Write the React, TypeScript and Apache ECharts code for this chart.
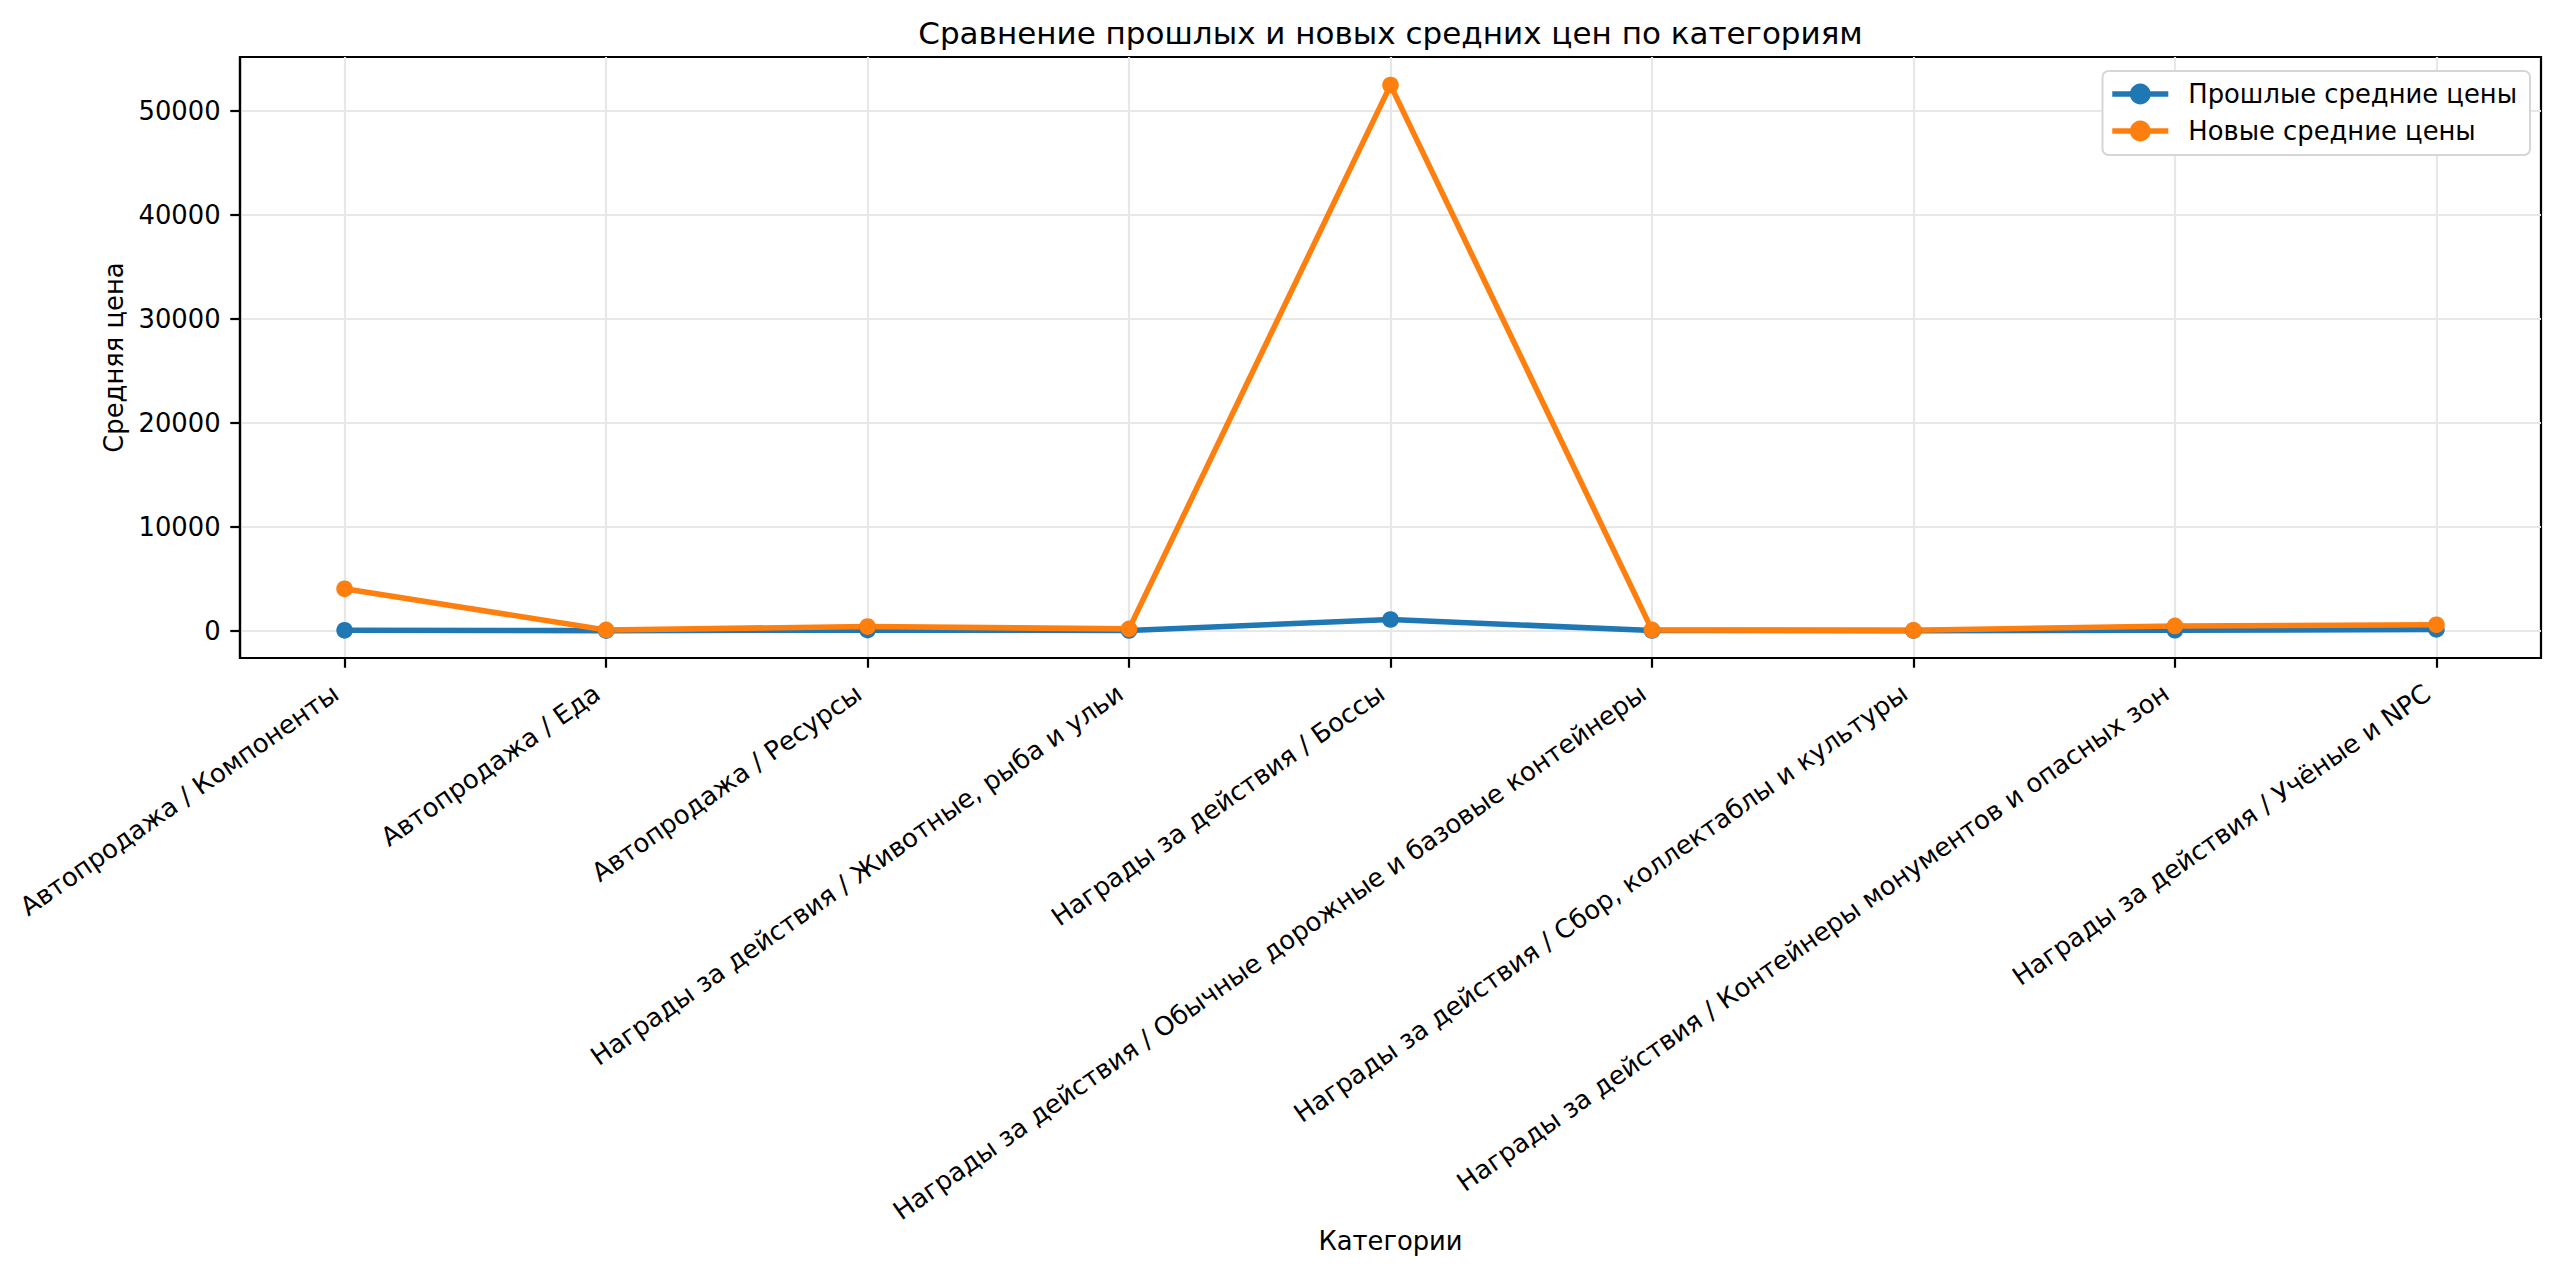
import React, { useEffect, useRef } from 'react';
import * as echarts from 'echarts';

const categories = [
  'Автопродажа / Компоненты',
  'Автопродажа / Еда',
  'Автопродажа / Ресурсы',
  'Награды за действия / Животные, рыба и ульи',
  'Награды за действия / Боссы',
  'Награды за действия / Обычные дорожные и базовые контейнеры',
  'Награды за действия / Сбор, коллектаблы и культуры',
  'Награды за действия / Контейнеры монументов и опасных зон',
  'Награды за действия / Учёные и NPC',
];

const oldPrices = [60, 30, 80, 50, 1100, 40, 30, 70, 150];
const newPrices = [4050, 100, 420, 200, 52470, 100, 60, 480, 600];

const yTicks = [0, 10000, 20000, 30000, 40000, 50000];
const xTicks = categories.map((_, i) => i);

const FONT = 'DejaVu Sans';
const PT = 200 / 72;
const FS = 25.8; // tick / label size
const TITLE_FS = 31;

export default function App() {
  const chartRef = useRef<HTMLDivElement>(null);

  useEffect(() => {
    document.body.style.margin = '0';
    if (!chartRef.current) return;
    const chart = echarts.init(chartRef.current, null, { renderer: 'svg' });

    const gridLeft = 240;
    const gridRight = 2541;
    const gridTop = 57;
    const gridBottom = 658;

    const axisLine = { show: true, onZero: false, lineStyle: { color: '#000', width: 0.8 * PT } };
    const tick = { show: true, length: 3.5 * PT, lineStyle: { color: '#000', width: 0.8 * PT } };
    const grid = { show: true, lineStyle: { color: '#e7e7e7', width: 0.8 * PT } };

    const textStyle = (text: string, size: number) => ({
      text,
      fontSize: size,
      fontFamily: FONT,
      fill: '#000',
      align: 'center',
      verticalAlign: 'middle',
      textAlign: 'center',
      textVerticalAlign: 'middle',
    });

    const option = {
      animation: false,
      backgroundColor: '#fff',
      grid: {
        left: gridLeft,
        right: 2560 - gridRight,
        top: gridTop,
        bottom: 1274 - gridBottom,
        containLabel: false,
        outerBoundsMode: 'none',
        show: true,
        borderColor: '#000',
        borderWidth: 0.8 * PT,
      },
      graphic: [
        {
          type: 'text',
          x: (gridLeft + gridRight) / 2,
          y: 33,
          style: textStyle('Сравнение прошлых и новых средних цен по категориям', TITLE_FS),
        },
        {
          type: 'text',
          x: (gridLeft + gridRight) / 2,
          y: 1241,
          style: textStyle('Категории', FS),
        },
        {
          type: 'text',
          x: 114,
          y: (gridTop + gridBottom) / 2,
          rotation: Math.PI / 2,
          style: textStyle('Средняя цена', FS),
        },
      ],
      legend: {
        orient: 'vertical',
        right: 30,
        top: 71,
        padding: [10, 13, 11, 7],
        itemGap: 11,
        itemWidth: 56,
        itemHeight: 26,
        backgroundColor: '#fff',
        borderColor: '#d6d6d6',
        borderWidth: 2,
        borderRadius: 6,
        lineStyle: { width: 2 * PT },
        textStyle: {
          fontSize: FS,
          fontFamily: FONT,
          color: '#000',
          padding: [0, 0, 0, 15],
        },
        data: ['Прошлые средние цены', 'Новые средние цены'],
      },
      xAxis: {
        type: 'value',
        min: -0.4,
        max: 8.4,
        minInterval: 1,
        maxInterval: 1,
        axisLine,
        axisTick: { ...tick, customValues: xTicks },
        splitLine: grid,
        axisLabel: {
          customValues: xTicks,
          rotate: 35,
          margin: 26,
          padding: [0, 11, 0, 0],
          fontSize: FS,
          fontFamily: FONT,
          color: '#000',
          formatter: (v: number) => categories[Math.round(v)] ?? '',
        },
      },
      yAxis: {
        type: 'value',
        min: -2600,
        max: 55170,
        minInterval: 10000,
        maxInterval: 10000,
        axisLine,
        axisTick: { ...tick, customValues: yTicks },
        splitLine: grid,
        axisLabel: {
          customValues: yTicks,
          margin: 3.5 * PT * 2,
          fontSize: FS,
          fontFamily: FONT,
          color: '#000',
          formatter: (v: number) => String(v),
        },
      },
      series: [
        {
          name: 'Прошлые средние цены',
          type: 'line',
          data: oldPrices.map((v, i) => [i, v]),
          symbol: 'circle',
          symbolSize: 6 * PT,
          lineStyle: { color: '#1f77b4', width: 2 * PT },
          itemStyle: { color: '#1f77b4' },
        },
        {
          name: 'Новые средние цены',
          type: 'line',
          data: newPrices.map((v, i) => [i, v]),
          symbol: 'circle',
          symbolSize: 6 * PT,
          lineStyle: { color: '#ff7f0e', width: 2 * PT },
          itemStyle: { color: '#ff7f0e' },
        },
      ],
    };

    chart.setOption(option as any);

    return () => {
      chart.dispose();
    };
  }, []);

  return <div ref={chartRef} style={{ width: 2560, height: 1274 }} />;
}
